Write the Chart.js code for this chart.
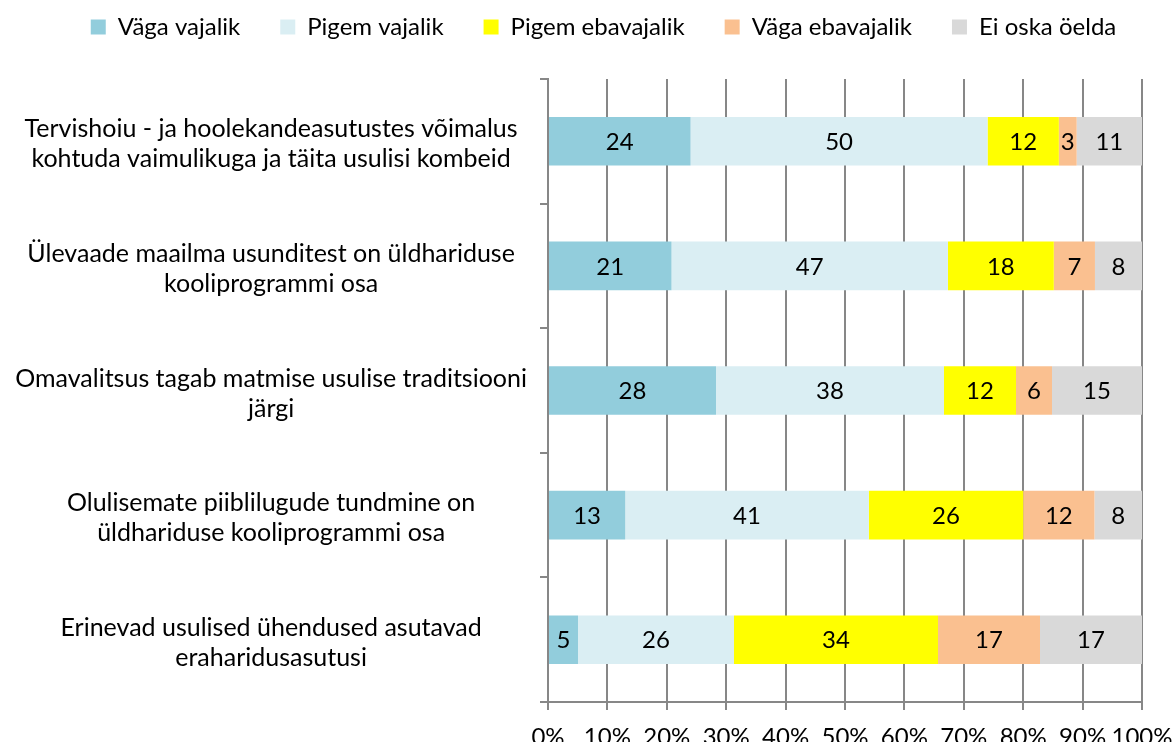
<!DOCTYPE html>
<html>
<head>
<meta charset="utf-8">
<script src="https://cdn.jsdelivr.net/npm/chart.js@4.4.0/dist/chart.umd.min.js"></script>
<style>
  html, body { margin: 0; padding: 0; background: #fff; }
</style>
</head>
<body>
<canvas id="myChart" width="1173" height="745"></canvas>
<script>
// categories (multi-line labels as in the picture)
const categories = [
  ["Tervishoiu - ja hoolekandeasutustes võimalus", "kohtuda vaimulikuga ja täita usulisi kombeid"],
  ["Ülevaade maailma usunditest on üldhariduse", "kooliprogrammi osa"],
  ["Omavalitsus tagab matmise usulise traditsiooni", "järgi"],
  ["Olulisemate piiblilugude tundmine on", "üldhariduse kooliprogrammi osa"],
  ["Erinevad usulised ühendused asutavad", "eraharidusasutusi"]
];

// series values (shown numbers)
const vagaVajalik = [24, 21, 28, 13, 5];
const pigemVajalik = [50, 47, 38, 41, 26];
const pigemEbavajalik = [12, 18, 12, 26, 34];
const vagaEbavajalik = [3, 7, 6, 12, 17];
const eiOska = [11, 8, 15, 8, 17];

const seriesNames = ["Väga vajalik", "Pigem vajalik", "Pigem ebavajalik", "Väga ebavajalik", "Ei oska öelda"];
const seriesColors = ["#92CDDC", "#DAEEF3", "#FFFF00", "#FAC090", "#D9D9D9"];
const xTicks = [0, 10, 20, 30, 40, 50, 60, 70, 80, 90, 100];

const allSeries = [vagaVajalik, pigemVajalik, pigemEbavajalik, vagaEbavajalik, eiOska];

// 100% stacked: every row is scaled by its own total
const rowTotals = categories.map((c, i) => allSeries.reduce((s, arr) => s + arr[i], 0));

const FONT = "Lato, 'DejaVu Sans', sans-serif";
const GRID = "#878787";

const datasets = allSeries.map((arr, k) => ({
  label: seriesNames[k],
  data: arr.map((v, i) => v / rowTotals[i] * 100),
  raw: arr,
  backgroundColor: seriesColors[k],
  borderWidth: 0,
  categoryPercentage: 1,
  barPercentage: 0.39
}));

// labels in the middle of each piece
const barLabels = {
  id: "barLabels",
  afterLayout(chart) {
    // legend sits a bit right of the page centre
    if (chart.legend) chart.legend.left += 34;
  },
  afterDatasetsDraw(chart) {
    const ctx = chart.ctx;
    ctx.save();
    ctx.font = "24px " + FONT;
    ctx.fillStyle = "#000";
    ctx.textAlign = "center";
    ctx.textBaseline = "middle";
    chart.data.datasets.forEach((ds, k) => {
      const meta = chart.getDatasetMeta(k);
      meta.data.forEach((bar, i) => {
        const p = bar.getCenterPoint();
        ctx.fillText(String(ds.raw[i]), p.x, p.y + 1);
      });
    });
    ctx.restore();
  }
};

const ctx = document.getElementById("myChart");

let myChart = new Chart(ctx, {
  type: "bar",
  data: {
    labels: categories,
    datasets: datasets
  },
  options: {
    indexAxis: "y",
    responsive: false,
    animation: false,
    layout: {
      padding: { top: -25, right: 0, bottom: 0, left: 0 }
    },
    plugins: {
      tooltip: { enabled: false },
      legend: {
        position: "top",
        labels: {
          boxWidth: 15,
          boxHeight: 15,
          padding: 40,
          color: "#000",
          font: { family: FONT, size: 24 }
        }
      },
      // empty spacer between legend and plot
      title: {
        display: true,
        text: "",
        weight: 500,
        font: { size: 10, lineHeight: 1 },
        padding: { top: 0, bottom: 20 }
      }
    },
    scales: {
      x: {
        stacked: true,
        min: 0,
        max: 100,
        afterBuildTicks(scale) {
          scale.ticks = xTicks.map(v => ({ value: v }));
        },
        afterFit(scale) {
          scale.height = 40;
          scale.paddingLeft = 0;
          scale.paddingRight = 31;
        },
        ticks: {
          color: "#000",
          padding: 13,
          maxRotation: 0,
          minRotation: 0,
          autoSkip: false,
          font: { family: FONT, size: 24 },
          callback: v => v + "%"
        },
        grid: {
          color: GRID,
          lineWidth: 2,
          tickLength: 8
        },
        border: { color: GRID, width: 2 }
      },
      y: {
        stacked: true,
        afterFit(scale) {
          scale.width = 548;
        },
        ticks: {
          color: "#000",
          crossAlign: "center",
          padding: 13,
          labelOffset: 3,
          font: { family: FONT, size: 25, lineHeight: 1.2 }
        },
        grid: {
          drawOnChartArea: false,
          color: GRID,
          lineWidth: 2,
          tickLength: 8
        },
        border: { color: GRID, width: 2 }
      }
    }
  },
  plugins: [barLabels]
});
</script>
</body>
</html>
